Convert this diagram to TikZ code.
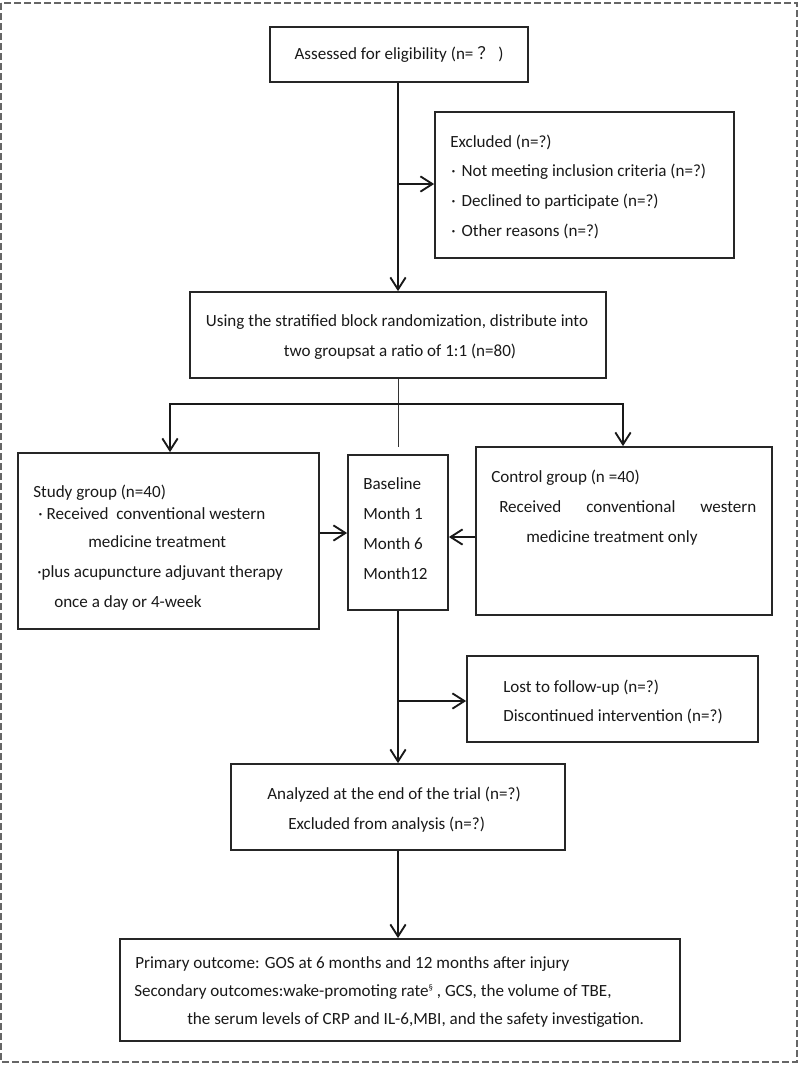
\documentclass[tikz,border=0pt]{standalone}
\usepackage{fontspec}
\setmainfont{Carlito}
\newfontfamily\cjk{Noto Sans CJK SC}
\usetikzlibrary{arrows.meta,fit}
\newcommand{\fs}{\fontsize{12.8pt}{15pt}\selectfont}
\begin{document}
\begin{tikzpicture}[x=0.75pt,y=-0.75pt,
  box/.style={draw=black!85, line width=1.3pt, inner sep=0pt},
  conn/.style={draw=black!90, line width=1.6pt},
  arr/.style={conn, -{Straight Barb[length=9pt,width=11.5pt,line width=1.4pt]}},
  thinline/.style={draw=black!80, line width=0.7pt},
  frame/.style={draw=black!60, line width=1pt, dash pattern=on 5pt off 2.5pt},
  txt/.style={inner sep=0pt, anchor=west, font=\fs, text=black!90, text height=10pt, text depth=3pt},
  ctxt/.style={txt, anchor=center},
]
\useasboundingbox (0,0) rectangle (800,1071);
\draw[frame] (1,3) rectangle (797,1062);

% boxes
\node[box, fit={(270,27)(528,82)}] (top) {};
\node[box, fit={(435,112)(734,258)}] (excl) {};
\node[box, fit={(190,292)(606,378)}] (rand) {};
\node[box, fit={(18,453)(319,629)}] (study) {};
\node[box, fit={(348,455)(448,610)}] (mid) {};
\node[box, fit={(476,447)(772,615)}] (control) {};
\node[box, fit={(467,656)(758,742)}] (lost) {};
\node[box, fit={(231,764)(565,850)}] (anal) {};
\node[box, fit={(120,939)(680,1041)}] (out) {};

% texts
\node[ctxt] (ttop) at (399,55) {Assessed for eligibility (n= {\cjk ？} )};

\node[txt] (ex0) at (450,143) {Excluded (n=?)};
\node[txt] (ex1) at (451,172) {·\hspace{4.5pt}Not meeting inclusion criteria (n=?)};
\node[txt] (ex2) at (451,202) {·\hspace{4.5pt}Declined to participate (n=?)};
\node[txt] (ex3) at (451,232) {·\hspace{4.5pt}Other reasons (n=?)};

\node[ctxt] (r1) at (397,322) {Using the stratified block randomization, distribute into};
\node[ctxt] (r2) at (400,352) {two groupsat a ratio of 1:1 (n=80)};

\node[txt] (s0) at (33,493) {Study group (n=40)};
\node[txt] (s1) at (38,515) {·\hspace{3pt}Received\ \ conventional western};
\node[txt] (s2) at (88,543) {medicine treatment};
\node[txt] (s3) at (37,573) {·plus acupuncture adjuvant therapy};
\node[txt] (s4) at (54,603) {once a day or 4-week};

\node[txt] (m1) at (363,485) {Baseline};
\node[txt] (m2) at (363,515) {Month 1};
\node[txt] (m3) at (363,545) {Month 6};
\node[txt] (m4) at (363,575) {Month12};

\node[txt] (c0) at (491,478) {Control group (n =40)};
\node[txt] (c1) at (499,508) {\makebox[192.75pt][s]{Received conventional western}};
\node[txt] (c2) at (526,538) {medicine treatment only};

\node[txt] (l1) at (503,688) {Lost to follow-up (n=?)};
\node[txt] (l2) at (503,717) {Discontinued intervention (n=?)};

\node[txt] (a1) at (267,795) {Analyzed at the end of the trial (n=?)};
\node[txt] (a2) at (288,825) {Excluded from analysis (n=?)};

\node[txt] (o1) at (135,964) {Primary outcome: GOS at 6 months and 12 months after injury};
\node[txt] (o2) at (134,992) {Secondary outcomes:wake-promoting rate\raisebox{5pt}{\fontsize{6.5pt}{6.5pt}\selectfont §} , GCS, the volume of TBE,};
\node[txt] (o3) at (187,1020) {the serum levels of CRP and IL-6,MBI, and the safety investigation.};

% helper coordinates
\coordinate (cx) at (398,0);
\coordinate (bl) at (170,404);
\coordinate (br) at (623,404);
\coordinate (thinend) at (398,447);
\coordinate (ye) at (0,184);
\coordinate (ys) at (0,533);
\coordinate (yc) at (0,537);
\coordinate (yl) at (0,701);

% connectors
\draw[arr] (top.south -| cx) -- (rand.north -| cx);
\draw[arr] (cx |- ye) -- (excl.west |- ye);
\draw[thinline] (rand.south -| cx) -- (thinend);
\draw[arr] (br) -- (bl) -- (study.north -| bl);
\draw[arr] (bl) -- (br) -- (control.north -| br);
\draw[arr] (study.east |- ys) -- (mid.west |- ys);
\draw[arr] (control.west |- yc) -- (mid.east |- yc);
\draw[arr] (mid.south -| cx) -- (anal.north -| cx);
\draw[arr] (cx |- yl) -- (lost.west |- yl);
\draw[arr] (anal.south -| cx) -- (out.north -| cx);
\end{tikzpicture}
\end{document}
